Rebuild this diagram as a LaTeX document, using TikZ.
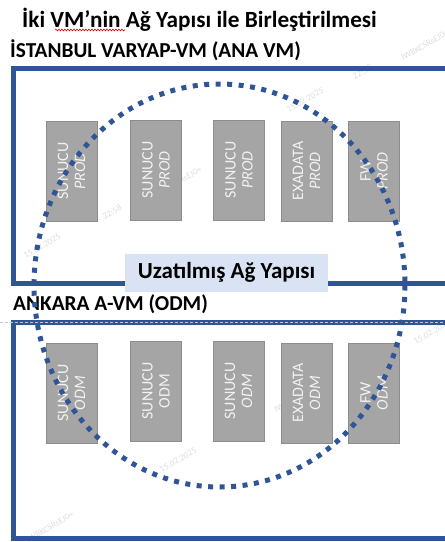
\documentclass[tikz,border=0pt]{standalone}
\usepackage{fontspec}
\setmainfont{Carlito}
\usetikzlibrary{decorations.pathmorphing}
\definecolor{frameblue}{HTML}{2F5597}
\definecolor{dotblue}{HTML}{2F5597}
\definecolor{labelfill}{HTML}{DAE3F3}
\definecolor{boxfill}{HTML}{A5A5A5}
\definecolor{boxline}{HTML}{8C8C8C}
\definecolor{boxtext}{HTML}{F2F2F2}
\definecolor{wmark}{HTML}{DDDDDD}
\tikzset{
  frame/.style={draw=frameblue, line width=5pt},
  server/.style={rotate=90, fill=boxfill, draw=boxline, line width=1pt,
    minimum width=100pt, minimum height=51pt, inner sep=0pt, align=center,
    text=boxtext, font=\fontsize{16}{17}\selectfont},
  heading/.style={anchor=base west, inner sep=0pt, font=\bfseries\fontsize{21.3}{24}\selectfont},
  wm/.style={rotate=30, text=wmark, font=\fontsize{9}{10}\selectfont, inner sep=0pt}
}
\begin{document}
\begin{tikzpicture}[x=1pt,y=-1pt]
\useasboundingbox (0,0) rectangle (445,542);
% watermarks
\node[wm] (w1) at (425,45) {IWBKCSRsEJ0=};
\node[wm] (w2) at (362,72) {22:58};
\node[wm] (w3) at (305,100) {15.02.2025};
\node[wm] (w4) at (178,182) {IWBKCSRsEJ0=};
\node[wm] (w5) at (112,212) {22:58};
\node[wm] (w6) at (42,246) {15.02.2025};
\node[wm] (w7) at (298,397) {IWBKCSRsEJ0=};
\node[wm] (w8) at (236,432) {22:58};
\node[wm] (w9) at (178,460) {15.02.2025};
\node[wm] (w10) at (432,332) {15.02.2025};
\node[wm] (w11) at (50,527) {IWBKCSRsEJ0=};
% frames
\draw[frame] (447,68) -- (13,68) -- (13,283) -- (447,283);
\draw[frame] (447,322) -- (13.5,322) -- (13.5,538) -- (447,538);
\draw[gray!45, line width=0.8pt, dash pattern=on 3pt off 2pt] (0,322) -- (445,322);
% titles
\node[heading, font=\bfseries\fontsize{23.2}{26}\selectfont] (title) at (22,27.5) {İki VM’nin Ağ Yapısı ile Birleştirilmesi};
\draw[red!85!black, line width=0.6pt, decorate, decoration={snake, amplitude=0.9pt, segment length=3pt}] (55,30) -- (125,30);
\node[heading] (ist) at (10,57) {İSTANBUL VARYAP-VM (ANA VM)};
\node[heading] (ank) at (13,310.5) {ANKARA A-VM (ODM)};
% servers top
\node[server] (t1) at (71.5,171) {SUNUCU\\\textit{PROD}};
\node[server] (t2) at (156,170) {SUNUCU\\\textit{PROD}};
\node[server] (t3) at (239,170) {SUNUCU\\\textit{PROD}};
\node[server] (t4) at (306.5,171) {EXADATA\\\textit{PROD}};
\node[server] (t5) at (374,171) {FW\\\textit{PROD}};
% servers bottom
\node[server] (b1) at (71.5,393) {SUNUCU\\\textit{ODM}};
\node[server] (b2) at (156,391) {SUNUCU\\ODM};
\node[server] (b3) at (238.5,391) {SUNUCU\\\textit{ODM}};
\node[server] (b4) at (306.5,393) {EXADATA\\\textit{ODM}};
\node[server] (b5) at (374,393) {FW\\\textit{ODM}};
% extended network
\draw[dotblue, line width=5pt, dash pattern=on 5pt off 6.5pt] (219.5,285.5) ellipse [x radius=185.5, y radius=201.5];
\node[fill=labelfill, minimum width=203pt, minimum height=38pt, inner sep=0pt,
  font=\bfseries\fontsize{23}{26}\selectfont] (ext) at (226.5,272.5) {Uzatılmış Ağ Yapısı};
\end{tikzpicture}
\end{document}
